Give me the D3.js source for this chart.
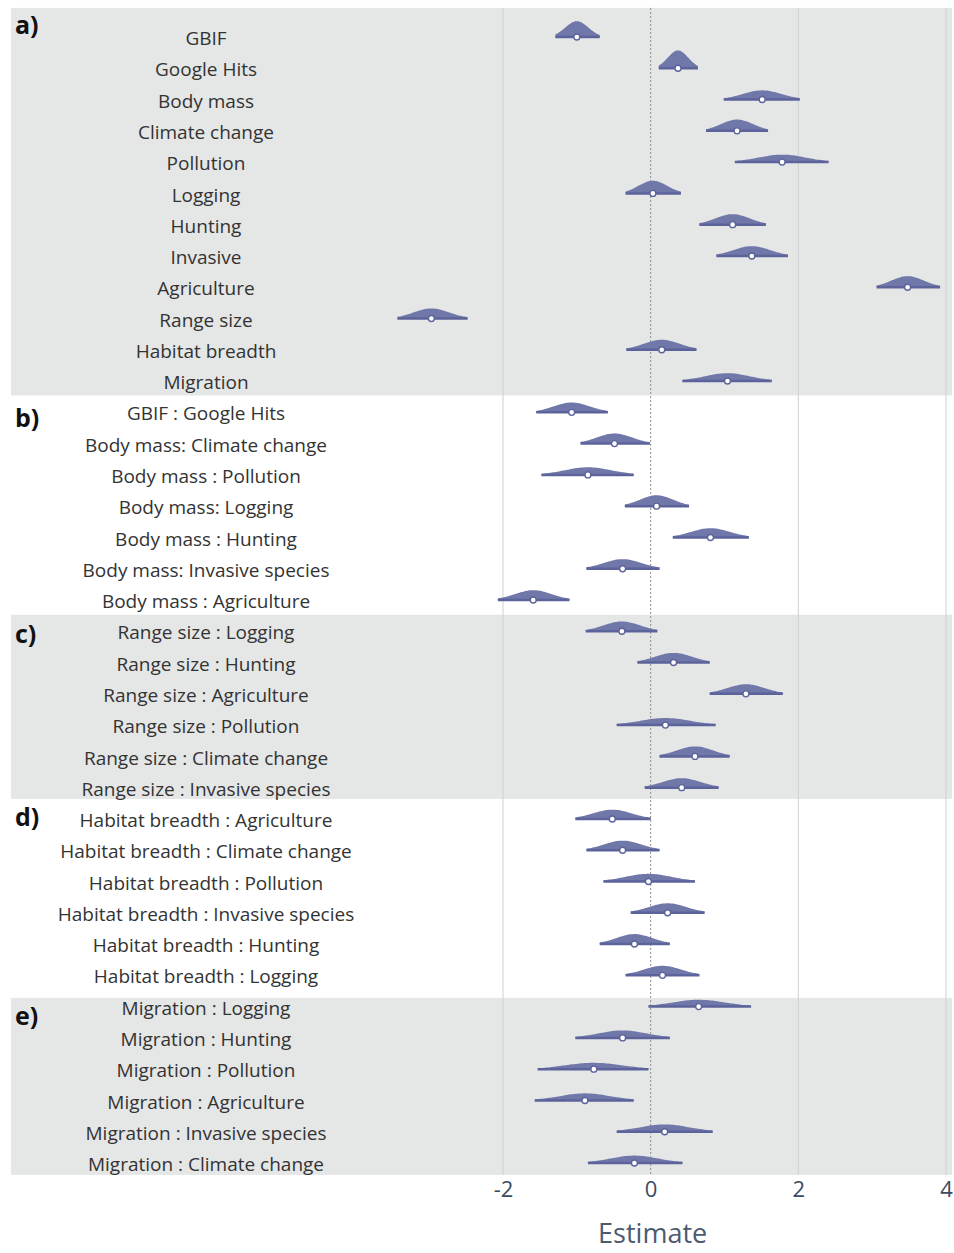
<!DOCTYPE html>
<html>
<head>
<meta charset="utf-8">
<script src="https://cdn.jsdelivr.net/npm/d3@7/dist/d3.min.js"></script>
<style>
  html, body { margin: 0; padding: 0; background: #ffffff; }
  svg { display: block; }
</style>
</head>
<body>
<svg id="chart" width="954" height="1253"></svg>
<script>
// ---------- DATA ----------
const panelNames = ["a)", "b)", "c)", "d)", "e)"];
const panelSizes = [12, 7, 6, 6, 6];

const labels = [
  "GBIF", "Google Hits", "Body mass", "Climate change", "Pollution", "Logging",
  "Hunting", "Invasive", "Agriculture", "Range size", "Habitat breadth", "Migration",
  "GBIF : Google Hits", "Body mass: Climate change", "Body mass : Pollution",
  "Body mass: Logging", "Body mass : Hunting", "Body mass: Invasive species",
  "Body mass : Agriculture",
  "Range size : Logging", "Range size : Hunting", "Range size : Agriculture",
  "Range size : Pollution", "Range size : Climate change", "Range size : Invasive species",
  "Habitat breadth : Agriculture", "Habitat breadth : Climate change",
  "Habitat breadth : Pollution", "Habitat breadth : Invasive species",
  "Habitat breadth : Hunting", "Habitat breadth : Logging",
  "Migration : Logging", "Migration : Hunting", "Migration : Pollution",
  "Migration : Agriculture", "Migration : Invasive species", "Migration : Climate change"
];

const medians = [
  -1.00, 0.37, 1.51, 1.17, 1.78, 0.03, 1.11, 1.37, 3.48, -2.97, 0.15, 1.04,
  -1.07, -0.49, -0.85, 0.08, 0.81, -0.38, -1.59,
  -0.39, 0.31, 1.29, 0.20, 0.60, 0.42,
  -0.52, -0.38, -0.03, 0.23, -0.22, 0.16,
  0.65, -0.38, -0.77, -0.89, 0.19, -0.22
];

const lows = [
  -1.29, 0.11, 0.99, 0.75, 1.14, -0.34, 0.66, 0.89, 3.06, -3.43, -0.33, 0.43,
  -1.55, -0.95, -1.48, -0.35, 0.30, -0.87, -2.07,
  -0.88, -0.18, 0.80, -0.46, 0.12, -0.08,
  -1.02, -0.87, -0.64, -0.27, -0.69, -0.34,
  -0.03, -1.02, -1.53, -1.57, -0.46, -0.85
];

const highs = [
  -0.69, 0.64, 2.02, 1.59, 2.41, 0.41, 1.56, 1.86, 3.92, -2.48, 0.62, 1.64,
  -0.58, -0.01, -0.23, 0.52, 1.33, 0.12, -1.10,
  0.09, 0.80, 1.79, 0.88, 1.07, 0.92,
  0.00, 0.12, 0.60, 0.73, 0.26, 0.66,
  1.36, 0.26, -0.03, -0.23, 0.84, 0.43
];

const xTicks = [-2, 0, 2, 4];
const axisTitle = "Estimate";

// ---------- LAYOUT ----------
const svg = d3.select("#chart");
const x = d3.scaleLinear().domain([-2, 4]).range([503, 946]);
const y = d3.scaleLinear().domain([0, 36]).range([37, 1163]);
const pxPerUnit = x(1) - x(0);

// panel boundaries in row units
const bounds = [-0.93, 11.46, 18.47, 24.36, 30.72, 36.38];
const grayPanels = [0, 2, 4];
const plotTop = y(bounds[0]);
const plotBottom = y(bounds[bounds.length - 1]);

// backgrounds
grayPanels.forEach(i => {
  svg.append("rect")
    .attr("x", 11).attr("width", 941)
    .attr("y", y(bounds[i]))
    .attr("height", y(bounds[i + 1]) - y(bounds[i]))
    .attr("fill", "#e5e6e6");
});

// grid lines
xTicks.forEach(t => {
  svg.append("line")
    .attr("x1", x(t)).attr("x2", x(t))
    .attr("y1", plotTop).attr("y2", plotBottom)
    .attr("stroke", t === 0 ? "#8a8a8a" : "#cfd0d0")
    .attr("stroke-width", 1)
    .attr("stroke-dasharray", t === 0 ? "2,2" : null);
});

// panel letters
let start = 0;
const letterOffsets = [-0.38, 0.18, 0.08, -0.05, 0.32];
panelNames.forEach((p, i) => {
  svg.append("text")
    .attr("x", 15)
    .attr("y", y(start + letterOffsets[i]))
    .attr("dy", "0.35em")
    .attr("font-family", "Open Sans, Noto Sans, sans-serif")
    .attr("font-weight", "bold")
    .attr("font-size", 25)
    .attr("fill", "#111")
    .text(p);
  start += panelSizes[i];
});

// row labels
svg.append("g").selectAll("text")
  .data(labels)
  .join("text")
  .attr("x", 206)
  .attr("y", (d, i) => y(i) + 1.5)
  .attr("dy", "0.35em")
  .attr("text-anchor", "middle")
  .attr("font-family", "Open Sans, Noto Sans, sans-serif")
  .attr("font-size", 19)
  .attr("fill", "#333")
  .text(d => d);

// densities
const AREA = 448; // px^2
const fillCol = "#7077a9";
const lineCol = "#5c639b";
const g = svg.append("g");
labels.forEach((lab, i) => {
  const lo = lows[i], hi = highs[i], m = medians[i];
  const sd = (hi - lo) / 3.92;
  const sdPx = sd * pxPerUnit;
  const peak = AREA / (sdPx * Math.sqrt(2 * Math.PI));
  const pts = d3.range(0, 61).map(k => lo + (hi - lo) * k / 60);
  const base = y(i);
  const area = d3.area()
    .x(v => x(v))
    .y0(base)
    .y1(v => base - peak * Math.exp(-0.5 * Math.pow((v - m) / sd, 2)))
    .curve(d3.curveBasis);
  g.append("path")
    .attr("d", area(pts))
    .attr("fill", fillCol);
  g.append("line")
    .attr("x1", x(lo)).attr("x2", x(hi))
    .attr("y1", base).attr("y2", base)
    .attr("stroke", lineCol)
    .attr("stroke-width", 2.5);
  g.append("circle")
    .attr("cx", x(m)).attr("cy", base)
    .attr("r", 3)
    .attr("fill", "#ffffff")
    .attr("stroke", lineCol)
    .attr("stroke-width", 1.4);
});

// x axis
const axis = svg.append("g")
  .attr("transform", `translate(0,${plotBottom})`)
  .call(d3.axisBottom(x).tickValues(xTicks).tickSize(0).tickPadding(6).tickFormat(d => String(d)));
axis.select(".domain").remove();
axis.selectAll("text")
  .attr("font-family", "Open Sans, Noto Sans, sans-serif")
  .attr("font-size", 22)
  .attr("fill", "#3c4b5f");

svg.append("text")
  .attr("x", x(0) + 2)
  .attr("y", 1234)
  .attr("dy", "0.35em")
  .attr("text-anchor", "middle")
  .attr("font-family", "Open Sans, Noto Sans, sans-serif")
  .attr("font-size", 27)
  .attr("fill", "#4b5b70")
  .text(axisTitle);
</script>
</body>
</html>
